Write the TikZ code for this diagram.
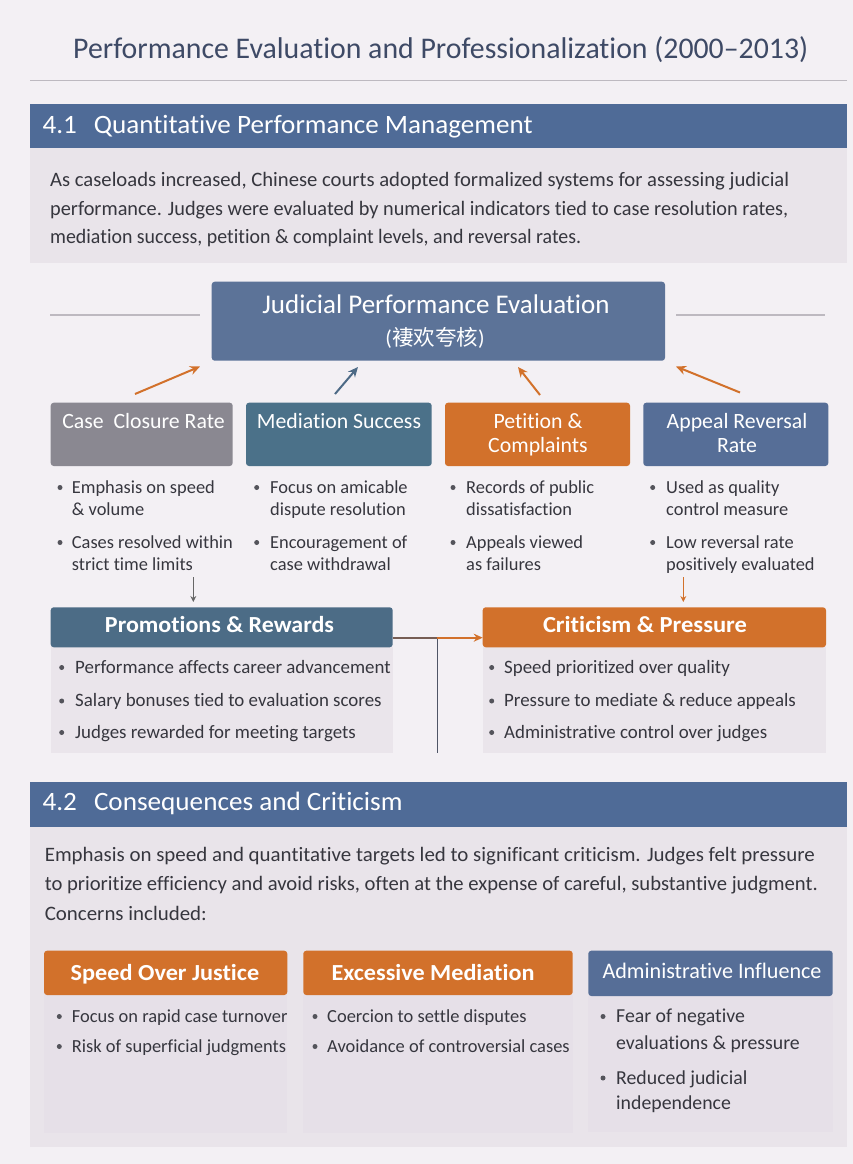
\documentclass[tikz,border=0pt]{standalone}
\usepackage{fontspec}
\usepackage{graphicx}
\setmainfont{Carlito}[Ligatures=NoCommon]
\newfontfamily\cjk{Noto Sans CJK SC}
\usetikzlibrary{arrows.meta}
\definecolor{bg}{HTML}{F3F0F4}
\definecolor{panel}{HTML}{E9E4EA}
\definecolor{hdr}{HTML}{4F6B97}
\definecolor{jblue}{HTML}{5C7398}
\definecolor{cgray}{HTML}{8A8891}
\definecolor{cteal}{HTML}{4B7189}
\definecolor{corange}{HTML}{D2712B}
\definecolor{cblue}{HTML}{566E97}
\definecolor{pteal}{HTML}{4C6C86}
\definecolor{txt}{HTML}{36363E}
\definecolor{ttl}{HTML}{3E4A66}
\definecolor{bodyc}{HTML}{EAE5EB}
\definecolor{cardc}{HTML}{E6E0E8}
\definecolor{sepc}{HTML}{BDB9C0}
\definecolor{arrblue}{HTML}{4D6A86}
\definecolor{darkln}{HTML}{4F5566}
\newcommand\fitw[2]{\resizebox{#1}{\height}{#2}}
\tikzset{
  box/.style={rectangle, inner sep=0, outer sep=0, anchor=north west},
  rbox/.style={box, rounded corners=3pt},
  lbl/.style={inner sep=0, anchor=base, text=white},
  btx/.style={inner sep=0, anchor=base west, text=txt, font=\fontsize{18.4}{22}\selectfont},
  ptx/.style={btx, font=\fontsize{18.9}{22}\selectfont},
  ktx/.style={btx, font=\fontsize{18.45}{22}\selectfont},
  atx/.style={btx, font=\fontsize{19.8}{22}\selectfont},
  dotn/.style={circle, fill=txt!85, inner sep=0, minimum size=5pt},
  arr/.style={line width=2pt, -{Stealth[length=10pt,width=9pt]}},
  darr/.style={line width=1.3pt, -{Stealth[length=6pt,width=6pt]}},
  para/.style={inner sep=0, anchor=base west, text=txt},
  catl/.style={lbl, font=\fontsize{21.8}{24}\selectfont},
}
\begin{document}
\begin{tikzpicture}[x=1pt,y=-1pt]
\useasboundingbox (0,0) rectangle (853,1164);
\fill[bg] (0,0) rectangle (853,1164);
% title
\node[anchor=base west, inner sep=0, text=ttl] (title) at (73,59) {\fitw{735pt}{\fontsize{30}{32}\selectfont Performance Evaluation and Professionalization (2000--2013)}};
\coordinate (sl1) at (30,80.5);
\coordinate (sl2) at (847,80.5);
\draw[sepc, line width=1pt] (sl1) -- (sl2);

% ---------- section 4.1
\node[box, fill=hdr, minimum width=817pt, minimum height=44.3pt] (sec1) at (30,104) {};
\node[anchor=base west, inner sep=0, text=white] (sec1t) at (42.4,133.3) {\fitw{490pt}{\fontsize{26.5}{28}\selectfont 4.1\hspace{0.4em} Quantitative Performance Management}};
\node[box, fill=panel, minimum width=817pt, minimum height=114.7pt] (intro1) at (30,148.3) {};
\node[para] (i1a) at (50,186.7) {\fitw{739pt}{\fontsize{20.5}{22}\selectfont As caseloads increased, Chinese courts adopted formalized systems for assessing judicial}};
\node[para] (i1b) at (50,215) {\fitw{738pt}{\fontsize{20.5}{22}\selectfont performance. Judges were evaluated by numerical indicators tied to case resolution rates,}};
\node[para] (i1c) at (50,243.3) {\fitw{531pt}{\fontsize{20.5}{22}\selectfont mediation success, petition \& complaint levels, and reversal rates.}};

% judicial box
\coordinate (gl1) at (50,315); \coordinate (gl2) at (200,315);
\coordinate (gr1) at (676,315); \coordinate (gr2) at (825,315);
\draw[sepc, line width=1.2pt] (gl1) -- (gl2);
\draw[sepc, line width=1.2pt] (gr1) -- (gr2);
\node[rbox, fill=jblue, minimum width=453.3pt, minimum height=79pt] (jpe) at (211.7,281.7) {};
\node[lbl, font=\fontsize{27}{30}\selectfont] (jpet) at (436,313.3) {Judicial Performance Evaluation};
\node[lbl, font=\fontsize{21.5}{24}\selectfont] (jpec) at (435,345) {({\cjk 褄欢夸核})};

% category boxes
\node[rbox, fill=cgray, minimum width=182pt, minimum height=63.3pt] (cc) at (50.7,402.7) {};
\node[rbox, fill=cteal, minimum width=185.7pt, minimum height=63.3pt] (ms) at (246,402.7) {};
\node[rbox, fill=corange, minimum width=185pt, minimum height=63.3pt] (pc) at (445,402.7) {};
\node[rbox, fill=cblue, minimum width=185pt, minimum height=63.3pt] (ar) at (643.3,402.7) {};
\node[catl] (cct) at (143.5,428) {Case\hspace{0.45em}Closure Rate};
\node[catl] (mst) at (339,428) {Mediation Success};
\node[catl] (pct1) at (538,428) {Petition \&};
\node[catl] (pct2) at (538,452.7) {Complaints};
\node[catl] (art1) at (737,428) {Appeal Reversal};
\node[catl] (art2) at (737,452.7) {Rate};

% arrows to the evaluation box
\coordinate (a1s) at (135,394); \coordinate (a1e) at (200,366.5);
\coordinate (a2s) at (335,394); \coordinate (a2e) at (358,367);
\coordinate (a3s) at (540,395); \coordinate (a3e) at (518,367);
\coordinate (a4s) at (740,392.5); \coordinate (a4e) at (676,366.5);
\draw[arr, corange] (a1s) -- (a1e);
\draw[arr, arrblue] (a2s) -- (a2e);
\draw[arr, corange] (a3s) -- (a3e);
\draw[arr, corange] (a4s) -- (a4e);

% category bullets
\node[dotn] (d11) at (60,487.5) {}; \node[btx] (t11) at (71.7,493) {Emphasis on speed};
\node[btx] (t12) at (71.7,515) {\& volume};
\node[dotn] (d13) at (60,542.5) {}; \node[btx] (t13) at (71.7,548) {Cases resolved within};
\node[btx] (t14) at (71.7,570) {strict time limits};

\node[dotn] (d21) at (256.7,487.5) {}; \node[btx] (t21) at (270,493) {Focus on amicable};
\node[btx] (t22) at (270,515) {dispute resolution};
\node[dotn] (d23) at (256.7,542.5) {}; \node[btx] (t23) at (270,548) {Encouragement of};
\node[btx] (t24) at (270,570) {case withdrawal};

\node[dotn] (d31) at (453,487.5) {}; \node[btx] (t31) at (466,493) {Records of public};
\node[btx] (t32) at (466,515) {dissatisfaction};
\node[dotn] (d33) at (453,542.5) {}; \node[btx] (t33) at (466,548) {Appeals viewed};
\node[btx] (t34) at (466,570) {as failures};

\node[dotn] (d41) at (652.7,487.5) {}; \node[btx] (t41) at (666,493) {Used as quality};
\node[btx] (t42) at (666,515) {control measure};
\node[dotn] (d43) at (652.7,542.5) {}; \node[btx] (t43) at (666,548) {Low reversal rate};
\node[btx] (t44) at (666,570) {positively evaluated};

% promotions & criticism
\node[box, fill=bodyc, minimum width=342pt, minimum height=105.7pt] (pb) at (50.7,647.3) {};
\node[box, fill=bodyc, minimum width=343.3pt, minimum height=105.7pt] (cb) at (482.7,647.3) {};
\node[rbox, fill=pteal, minimum width=342pt, minimum height=40pt] (ph) at (50.7,607.3) {};
\node[rbox, fill=corange, minimum width=343.3pt, minimum height=40pt] (ch) at (482.7,607.3) {};
\node[lbl] (pht) at (219.5,632.7) {\fitw{229pt}{\bfseries\fontsize{23}{26}\selectfont Promotions \& Rewards}};
\node[lbl] (cht) at (645,632.7) {\fitw{204pt}{\bfseries\fontsize{23}{26}\selectfont Criticism \& Pressure}};

\coordinate (dg1) at (193.3,577); \coordinate (dg2) at (193.3,602);
\coordinate (do1) at (683.3,577); \coordinate (do2) at (683.3,602);
\draw[darr, gray!80!black] (dg1) -- (dg2);
\draw[darr, corange] (do1) -- (do2);

\coordinate (j1) at (392.7,637.7);
\coordinate (j2) at (437.3,637.7);
\coordinate (j3) at (437.3,753);
\draw[line width=1.6pt, darkln] (j2) -- (j3);
\draw[line width=1.6pt, darkln!70!corange] (j1) -- (j2);
\draw[line width=1.6pt, corange, -{Stealth[length=9pt,width=8pt]}] (j2) -- (ch.west |- j2);

\node[dotn] (p1d) at (61.7,667.5) {}; \node[ptx] (p1) at (75,673) {Performance affects career advancement};
\node[dotn] (p2d) at (61.7,701) {}; \node[ptx] (p2) at (75,706.5) {Salary bonuses tied to evaluation scores};
\node[dotn] (p3d) at (61.7,732.5) {}; \node[ptx] (p3) at (75,738) {Judges rewarded for meeting targets};
\node[dotn] (c1d) at (491.7,667.5) {}; \node[ptx] (c1) at (504,673) {Speed prioritized over quality};
\node[dotn] (c2d) at (491.7,701) {}; \node[ptx] (c2) at (504,706.5) {Pressure to mediate \& reduce appeals};
\node[dotn] (c3d) at (491.7,732.5) {}; \node[ptx] (c3) at (504,738) {Administrative control over judges};

% ---------- section 4.2
\node[box, fill=hdr, minimum width=817pt, minimum height=45.6pt] (sec2) at (30,781.7) {};
\node[anchor=base west, inner sep=0, text=white] (sec2t) at (42.4,810) {\fitw{360pt}{\fontsize{26.5}{28}\selectfont 4.2\hspace{0.4em} Consequences and Criticism}};
\node[box, fill=panel, minimum width=817pt, minimum height=320pt] (intro2) at (30,827.3) {};
\node[para] (i2a) at (44.6,861.7) {\fitw{770pt}{\fontsize{20.5}{22}\selectfont Emphasis on speed and quantitative targets led to significant criticism. Judges felt pressure}};
\node[para] (i2b) at (44.6,890) {\fitw{773pt}{\fontsize{20.5}{22}\selectfont to prioritize efficiency and avoid risks, often at the expense of careful, substantive judgment.}};
\node[para] (i2c) at (44.6,920) {\fitw{162pt}{\fontsize{20.5}{22}\selectfont Concerns included:}};

% cards
\node[box, fill=cardc, minimum width=243.3pt, minimum height=138.3pt] (sjb) at (44,995) {};
\node[box, fill=cardc, minimum width=269.4pt, minimum height=138pt] (emb) at (303.3,995) {};
\node[box, fill=cardc, minimum width=244.4pt, minimum height=135.7pt] (aib) at (588.3,996) {};
\node[rbox, fill=corange, minimum width=243.3pt, minimum height=44.3pt] (sjh) at (44,950.7) {};
\node[rbox, fill=corange, minimum width=269.4pt, minimum height=44.3pt] (emh) at (303.3,950.7) {};
\node[rbox, fill=cblue, minimum width=244.4pt, minimum height=45.3pt] (aih) at (588.3,950.7) {};
\node[lbl] (sjt) at (165,980) {\fitw{188.6pt}{\bfseries\fontsize{23}{26}\selectfont Speed Over Justice}};
\node[lbl] (emt) at (433,980) {\fitw{203pt}{\bfseries\fontsize{23}{26}\selectfont Excessive Mediation}};
\node[lbl] (ait) at (712,978.3) {\fitw{219pt}{\fontsize{22.2}{24}\selectfont Administrative Influence}};

\node[dotn] (s1d) at (59.3,1016.5) {}; \node[ktx] (s1) at (71.7,1022) {Focus on rapid case turnover};
\node[dotn] (s2d) at (59.3,1046.5) {}; \node[ktx] (s2) at (71.7,1052) {Risk of superficial judgments};
\node[dotn] (e1d) at (315,1016.5) {}; \node[ktx] (e1) at (327,1022) {Coercion to settle disputes};
\node[dotn] (e2d) at (315,1046.5) {}; \node[ktx] (e2) at (327,1052) {Avoidance of controversial cases};
\node[dotn] (f1d) at (603,1016.5) {}; \node[atx] (f1) at (616,1022.7) {Fear of negative};
\node[atx] (f2) at (616,1049) {evaluations \& pressure};
\node[dotn] (f3d) at (603,1078) {}; \node[atx] (f3) at (616,1084) {Reduced judicial};
\node[atx] (f4) at (616,1109.3) {independence};
\end{tikzpicture}
\end{document}
